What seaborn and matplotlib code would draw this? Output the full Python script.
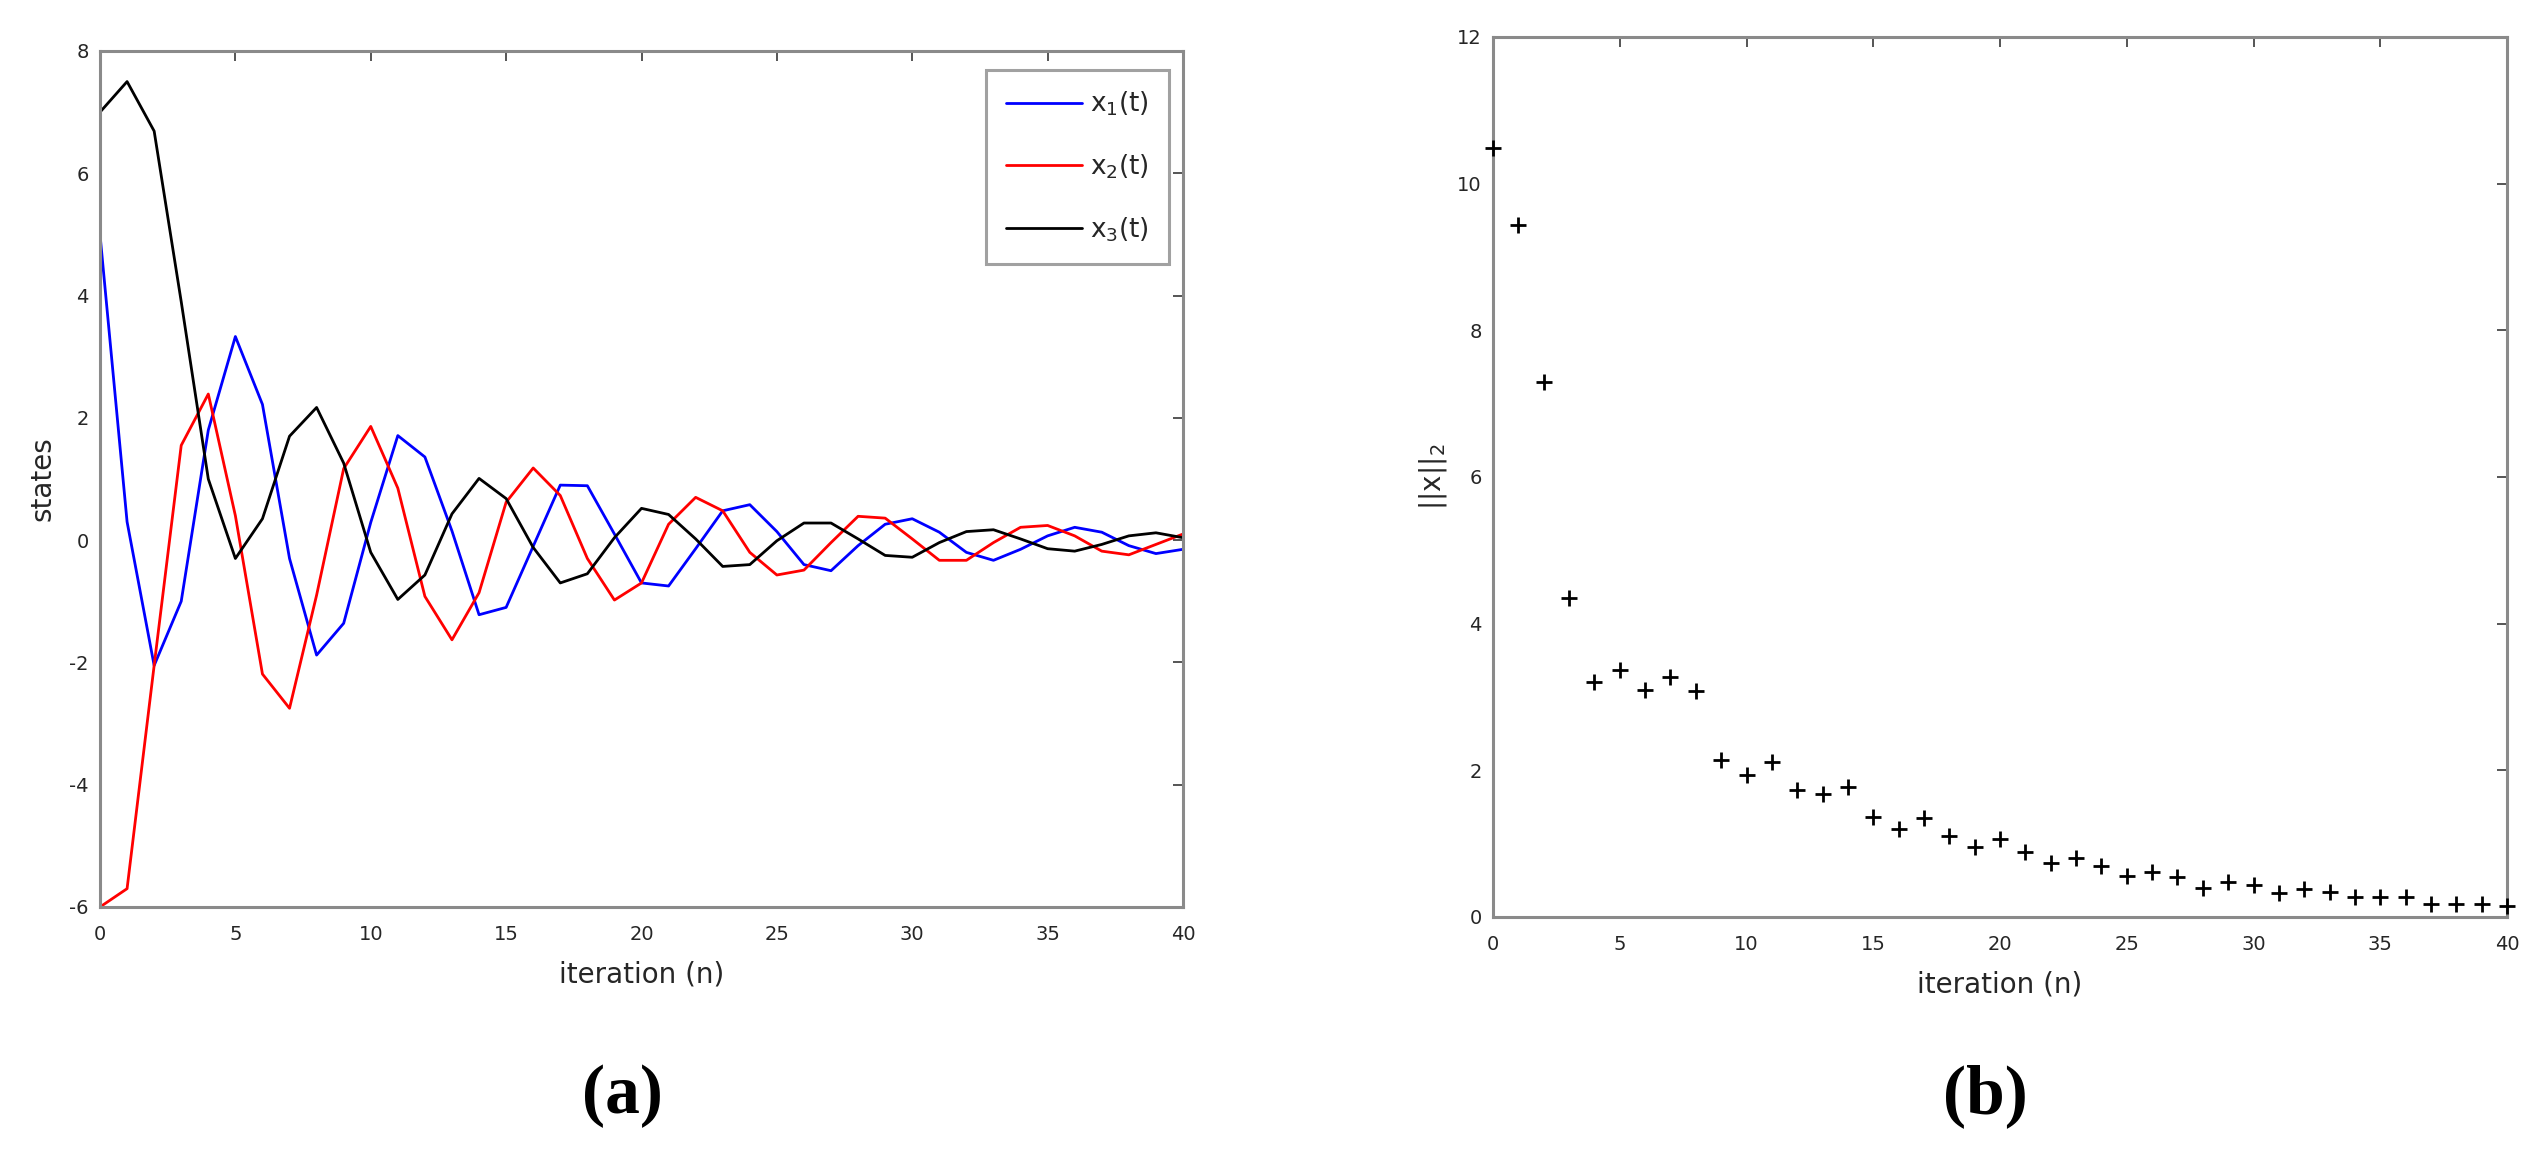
import numpy as np
import pandas as pd
import matplotlib
matplotlib.use('Agg')
import matplotlib.pyplot as plt
import seaborn as sns

# iterations
n = list(range(41))

# states
x1 = [5.0, 0.3, -2.05, -1.0, 1.8, 3.33, 2.22, -0.3, -1.88, -1.36,
      0.29, 1.71, 1.36, 0.15, -1.22, -1.1, -0.1, 0.9, 0.89, 0.1,
      -0.7, -0.75, -0.14, 0.48, 0.58, 0.14, -0.4, -0.5, -0.09, 0.26,
      0.35, 0.13, -0.2, -0.33, -0.15, 0.07, 0.21, 0.13, -0.09, -0.22,
      -0.15]
x2 = [-6.0, -5.7, -2.05, 1.55, 2.39, 0.4, -2.19, -2.75, -0.9, 1.17,
      1.86, 0.85, -0.92, -1.63, -0.86, 0.62, 1.18, 0.73, -0.3, -0.98,
      -0.7, 0.26, 0.7, 0.48, -0.2, -0.57, -0.49, -0.04, 0.39, 0.36,
      0.02, -0.33, -0.33, -0.04, 0.21, 0.24, 0.07, -0.18, -0.24, -0.07,
      0.1]
x3 = [7.0, 7.5, 6.69, 3.9, 1.0, -0.3, 0.35, 1.7, 2.17, 1.26,
      -0.2, -0.97, -0.57, 0.43, 1.01, 0.68, -0.12, -0.7, -0.55, 0.04,
      0.52, 0.42, 0.02, -0.43, -0.4, -0.01, 0.28, 0.28, 0.02, -0.25,
      -0.28, -0.04, 0.14, 0.17, 0.02, -0.14, -0.18, -0.07, 0.07, 0.12,
      0.04]

# norm
norm2 = [10.48, 9.43, 7.3, 4.35, 3.2, 3.37, 3.1, 3.27, 3.08, 2.14,
         1.93, 2.11, 1.73, 1.68, 1.77, 1.37, 1.2, 1.35, 1.1, 0.95,
         1.06, 0.89, 0.74, 0.81, 0.7, 0.56, 0.62, 0.54, 0.4, 0.48,
         0.44, 0.33, 0.38, 0.34, 0.27, 0.27, 0.27, 0.18, 0.18, 0.18,
         0.15]

labels = ['x$_1$(t)', 'x$_2$(t)', 'x$_3$(t)']
colors = ['#0000ff', '#ff0000', '#000000']

sns.set_style('white')
plt.rcParams['font.family'] = ['DejaVu Sans']
plt.rcParams['mathtext.fontset'] = 'dejavusans'
plt.rcParams['mathtext.default'] = 'regular'
plt.rcParams['axes.unicode_minus'] = False

states = pd.DataFrame({
    'n': n * 3,
    'value': x1 + x2 + x3,
    'series': [labels[0]] * 41 + [labels[1]] * 41 + [labels[2]] * 41,
})
norms = pd.DataFrame({'n': n, 'norm': norm2})

W, H = 2543, 1153
fig = plt.figure(figsize=(W / 100, H / 100), dpi=100)
ax1 = fig.add_axes([100 / W, 1 - 907 / H, 1083 / W, 856 / H])
ax2 = fig.add_axes([1493 / W, 1 - 917 / H, 1014 / W, 880 / H])

axis_grey = '#8a8a8a'
tick_col = '#262626'


def matlab_look(ax):
    for s in ax.spines.values():
        s.set_visible(True)
        s.set_color(axis_grey)
        s.set_linewidth(2.2)
    ax.tick_params(direction='in', length=7, width=1.4, color='#555555',
                   top=True, right=True, labelsize=14, labelcolor=tick_col)
    ax.tick_params(axis='x', pad=13)
    ax.tick_params(axis='y', pad=8)
    ax.grid(False)


sns.lineplot(data=states, x='n', y='value', hue='series', palette=colors,
             linewidth=2.0, ax=ax1)
ax1.set_xlim(0, 40)
ax1.set_ylim(-6, 8)
ax1.set_xticks(range(0, 41, 5))
ax1.set_yticks(range(-6, 9, 2))
ax1.set_xlabel('iteration (n)', fontsize=20, color=tick_col, labelpad=12)
ax1.set_ylabel('states', fontsize=20, color=tick_col, labelpad=9)
matlab_look(ax1)
leg = ax1.legend(loc='upper right', fontsize=19, frameon=True, fancybox=False,
                 handlelength=2.9, labelspacing=1.3, borderpad=0.75,
                 handletextpad=0.3, borderaxespad=0,
                 bbox_to_anchor=(1 - 14 / 1083, 1 - 19 / 856))
leg.get_frame().set_edgecolor(axis_grey)
leg.get_frame().set_linewidth(2.2)
for h in leg.get_lines():
    h.set_linewidth(2.0)

sns.scatterplot(data=norms, x='n', y='norm', marker='+', color='black',
                s=135, linewidth=2.0, clip_on=False, zorder=5, ax=ax2)
ax2.set_xlim(0, 40)
ax2.set_ylim(0, 12)
ax2.set_xticks(range(0, 41, 5))
ax2.set_yticks(range(0, 13, 2))
ax2.set_xlabel('iteration (n)', fontsize=20, color=tick_col, labelpad=12)
ax2.set_ylabel('||x||$_2$', fontsize=20, color=tick_col, labelpad=6)
matlab_look(ax2)

# panel captions
fig.text(622 / W, 1 - 1096 / H, '(a)', ha='center', va='center', color='black',
         fontsize=50, fontweight='bold', family='Liberation Serif')
fig.text(1985 / W, 1 - 1096 / H, '(b)', ha='center', va='center', color='black',
         fontsize=50, fontweight='bold', family='Liberation Serif')

fig.savefig('out.png', dpi=100, facecolor='white')
